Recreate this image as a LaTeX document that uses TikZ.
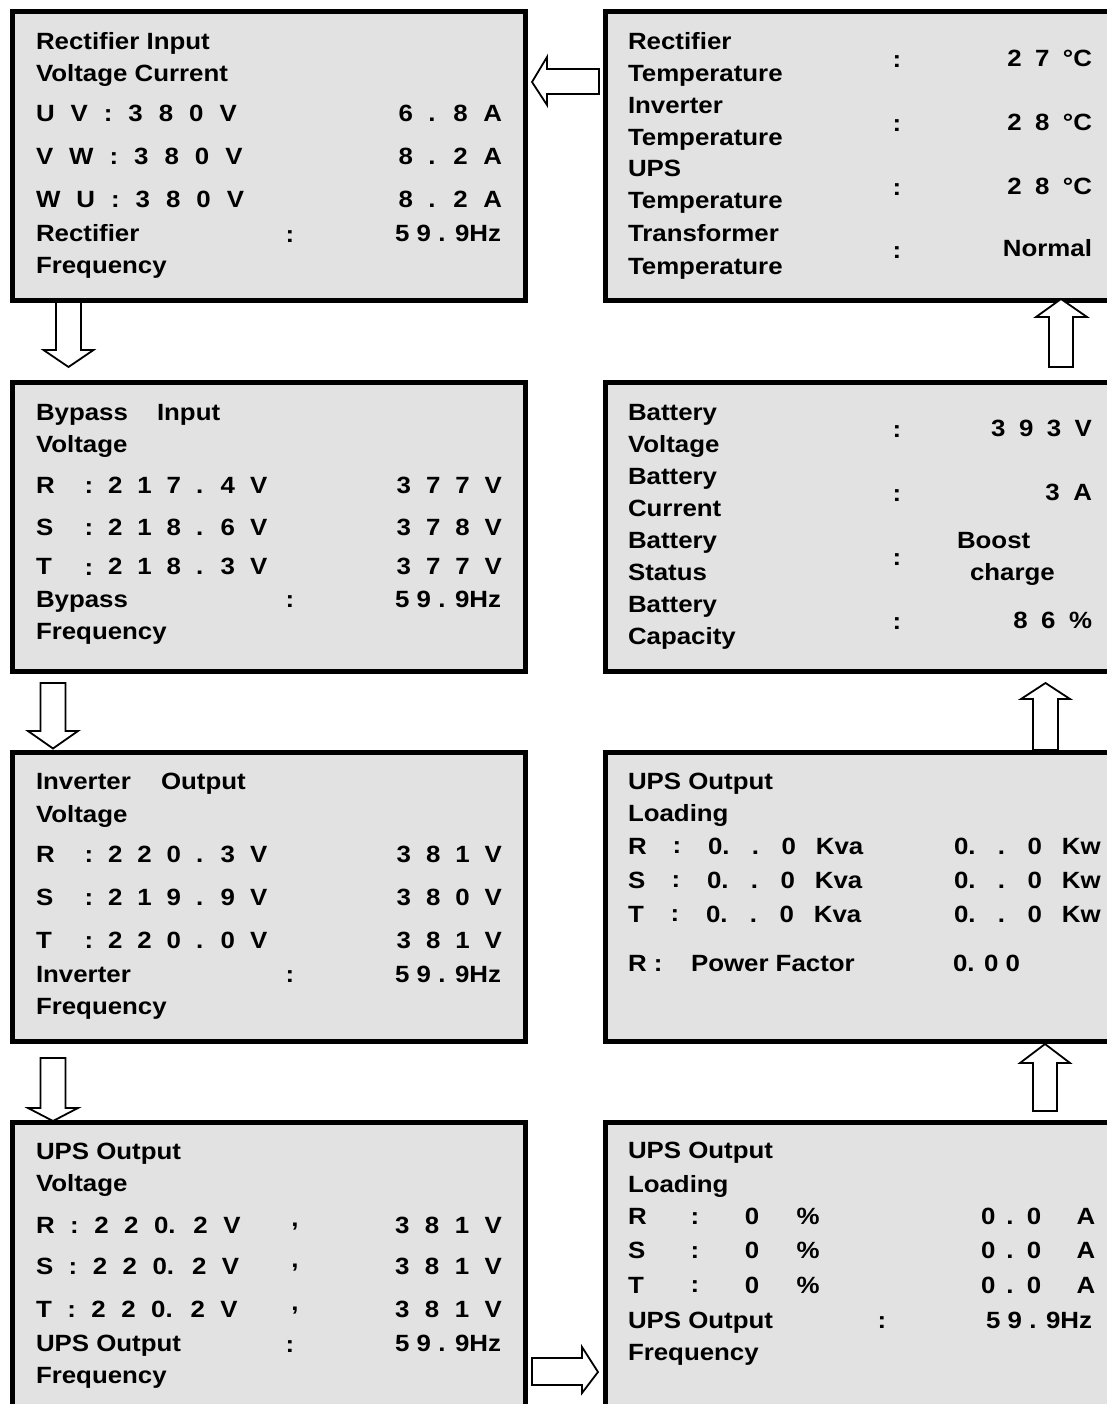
\documentclass[tikz,border=0pt]{standalone}
\usepackage{fontspec}
\setmainfont{Liberation Sans}[FakeStretch=1.1]
\definecolor{panelgray}{RGB}{226,226,226}
\newcommand\bx{\bfseries\fontsize{23.5}{28}\selectfont}
\tikzset{
  panel/.style={draw=black, line width=5pt, fill=panelgray, rectangle,
    minimum height=288.5pt, inner sep=0pt},
  lpanel/.style={panel, minimum width=513pt},
  rpanel/.style={panel, minimum width=512pt},
  tx/.style={font=\bx, inner sep=0pt, outer sep=0pt, text height=16.8pt, text depth=0pt, anchor=west},
  txr/.style={tx, anchor=east},
  txc/.style={tx, anchor=center},
  colon/.style={txc, yshift=-0.5pt},
  ws/.style={tx, font={\bx\spaceskip=#1\relax}},
  wsr/.style={ws=#1, anchor=east},
  blk/.style={draw=black, line width=1.8pt, fill=white, line join=miter},
}
\begin{document}
\begin{tikzpicture}[x=1pt, y=-1pt]
\useasboundingbox (0,0) rectangle (1107,1404);
\clip (0,0) rectangle (1107,1404);

% panels
\node[lpanel] (L1) at (268.5,156.25) {};
\node[lpanel] (L2) at (268.5,526.75) {};
\node[lpanel] (L3) at (268.5,896.75) {};
\node[lpanel] (L4) at (268.5,1266.25) {};
\node[rpanel] (R1) at (861,156.25) {};
\node[rpanel] (R2) at (861,526.75) {};
\node[rpanel] (R3) at (861,896.75) {};
\node[rpanel] (R4) at (861,1266.25) {};

% block arrows
\draw[blk] (599,69)--(599,94)--(547,94)--(547,105)--(532,82)--(547,57)--(547,69)--cycle;
\draw[blk] (56,302)--(81,302)--(81,350)--(93.5,350)--(68.5,367)--(43.5,350)--(56,350)--cycle;
\draw[blk] (40.5,683)--(65.5,683)--(65.5,731)--(78,731)--(53,748.5)--(28,731)--(40.5,731)--cycle;
\draw[blk] (40.5,1058)--(65.5,1058)--(65.5,1108)--(78,1108)--(53,1121)--(28,1108)--(40.5,1108)--cycle;
\draw[blk] (532,1358)--(582,1358)--(582,1347)--(598,1372)--(582,1393)--(582,1385)--(532,1385)--cycle;
\draw[blk] (1033,1111)--(1057,1111)--(1057,1063)--(1070,1063)--(1045,1044)--(1020,1063)--(1033,1063)--cycle;
\draw[blk] (1033,750)--(1058,750)--(1058,699)--(1070,699)--(1045.5,683)--(1021,699)--(1033,699)--cycle;
\draw[blk] (1049,367)--(1073,367)--(1073,317)--(1087,317)--(1061,299)--(1036,317)--(1049,317)--cycle;

% ---- L1
\node[tx] (l1h1) at (36,41.5) {Rectifier Input};
\node[tx] (l1h2) at (36,73.5) {Voltage Current};
\node[ws=16pt] (l1a) at (36,113.5) {U V : 3 8 0 V};
\node[wsr=15.5pt] (l1av) at (502,113.5) {6 . 8 A};
\node[ws=16pt] (l1b) at (36,156.5) {V W : 3 8 0 V};
\node[wsr=15.5pt] (l1bv) at (502,156.5) {8 . 2 A};
\node[ws=16pt] (l1c) at (36,199) {W U : 3 8 0 V};
\node[wsr=15.5pt] (l1cv) at (502,199) {8 . 2 A};
\node[tx] (l1f) at (36,233.5) {Rectifier};
\node[colon] (l1fc) at (290,233.5) {:};
\node[txr] (l1fv) at (501,233.5) {5 9 . 9Hz};
\node[tx] (l1f2) at (36,265.5) {Frequency};

% ---- L2
\node[tx] (l2h1) at (36,412) {Bypass};
\node[tx] (l2h1b) at (157,412) {Input};
\node[tx] (l2h2) at (36,444) {Voltage};
\node[tx] (l2a) at (36,485) {R};
\node[colon] (l2ac) at (89,485) {:};
\node[ws=15pt] (l2av) at (108,485) {2 1 7 . 4 V};
\node[wsr=15pt] (l2aw) at (502,485) {3 7 7 V};
\node[tx] (l2b) at (36,527) {S};
\node[colon] (l2bc) at (89,527) {:};
\node[ws=15pt] (l2bv) at (108,527) {2 1 8 . 6 V};
\node[wsr=15pt] (l2bw) at (502,527) {3 7 8 V};
\node[tx] (l2c) at (36,566.5) {T};
\node[colon] (l2cc) at (89,566.5) {:};
\node[ws=15pt] (l2cv) at (108,566.5) {2 1 8 . 3 V};
\node[wsr=15pt] (l2cw) at (502,566.5) {3 7 7 V};
\node[tx] (l2f) at (36,599) {Bypass};
\node[colon] (l2fc) at (290,599) {:};
\node[txr] (l2fv) at (501,599) {5 9 . 9Hz};
\node[tx] (l2f2) at (36,631) {Frequency};

% ---- L3
\node[tx] (l3h1) at (36,781) {Inverter};
\node[tx] (l3h1b) at (161,781) {Output};
\node[tx] (l3h2) at (36,814) {Voltage};
\node[tx] (l3a) at (36,854) {R};
\node[colon] (l3ac) at (89,854) {:};
\node[ws=15pt] (l3av) at (108,854) {2 2 0 . 3 V};
\node[wsr=15pt] (l3aw) at (502,854) {3 8 1 V};
\node[tx] (l3b) at (36,897) {S};
\node[colon] (l3bc) at (89,897) {:};
\node[ws=15pt] (l3bv) at (108,897) {2 1 9 . 9 V};
\node[wsr=15pt] (l3bw) at (502,897) {3 8 0 V};
\node[tx] (l3c) at (36,940) {T};
\node[colon] (l3cc) at (89,940) {:};
\node[ws=15pt] (l3cv) at (108,940) {2 2 0 . 0 V};
\node[wsr=15pt] (l3cw) at (502,940) {3 8 1 V};
\node[tx] (l3f) at (36,974) {Inverter};
\node[colon] (l3fc) at (290,974) {:};
\node[txr] (l3fv) at (501,974) {5 9 . 9Hz};
\node[tx] (l3f2) at (36,1006) {Frequency};

% ---- L4
\node[tx] (l4h1) at (36,1151.5) {UPS Output};
\node[tx] (l4h2) at (36,1183.5) {Voltage};
\node[ws=15.5pt] (l4a) at (36,1225) {R : 2 2 0. 2 V};
\node[txc] (l4ak) at (295,1218) {,};
\node[wsr=15.5pt] (l4aw) at (502,1225) {3 8 1 V};
\node[ws=15.5pt] (l4b) at (36,1266.5) {S : 2 2 0. 2 V};
\node[txc] (l4bk) at (295,1259.5) {,};
\node[wsr=15.5pt] (l4bw) at (502,1266.5) {3 8 1 V};
\node[ws=15.5pt] (l4c) at (36,1309) {T : 2 2 0. 2 V};
\node[txc] (l4ck) at (295,1302) {,};
\node[wsr=15.5pt] (l4cw) at (502,1309) {3 8 1 V};
\node[tx] (l4f) at (36,1343.5) {UPS Output};
\node[colon] (l4fc) at (290,1343.5) {:};
\node[txr] (l4fv) at (501,1343.5) {5 9 . 9Hz};
\node[tx] (l4f2) at (36,1375) {Frequency};

% ---- R1
\node[tx] (r1a1) at (628,41.5) {Rectifier};
\node[tx] (r1a2) at (628,73) {Temperature};
\node[colon] (r1ac) at (897,59) {:};
\node[wsr=13.5pt] (r1av) at (1092,58.5) {2 7 °C};
\node[tx] (r1b1) at (628,105) {Inverter};
\node[tx] (r1b2) at (628,137) {Temperature};
\node[colon] (r1bc) at (897,123) {:};
\node[wsr=13.5pt] (r1bv) at (1092,122) {2 8 °C};
\node[tx] (r1c1) at (628,168.5) {UPS};
\node[tx] (r1c2) at (628,200.5) {Temperature};
\node[colon] (r1cc) at (897,187) {:};
\node[wsr=13.5pt] (r1cv) at (1092,186) {2 8 °C};
\node[tx] (r1d1) at (628,233) {Transformer};
\node[tx] (r1d2) at (628,266.5) {Temperature};
\node[colon] (r1dc) at (897,250) {:};
\node[txr] (r1dv) at (1092,248) {Normal};

% ---- R2
\node[tx] (r2a1) at (628,412) {Battery};
\node[tx] (r2a2) at (628,444) {Voltage};
\node[colon] (r2ac) at (897,429) {:};
\node[wsr=13.5pt] (r2av) at (1092,428) {3 9 3 V};
\node[tx] (r2b1) at (628,476) {Battery};
\node[tx] (r2b2) at (628,508) {Current};
\node[colon] (r2bc) at (897,493) {:};
\node[wsr=13.5pt] (r2bv) at (1092,492) {3 A};
\node[tx] (r2c1) at (628,540) {Battery};
\node[tx] (r2c2) at (628,572) {Status};
\node[colon] (r2cc) at (897,557) {:};
\node[tx] (r2cv1) at (957,540) {Boost};
\node[tx] (r2cv2) at (970,572) {charge};
\node[tx] (r2d1) at (628,604) {Battery};
\node[tx] (r2d2) at (628,636) {Capacity};
\node[colon] (r2dc) at (897,621) {:};
\node[wsr=13.5pt] (r2dv) at (1092,620) {8 6 \%};

% ---- R3
\node[tx] (r3h1) at (628,781) {UPS Output};
\node[tx] (r3h2) at (628,813) {Loading};
\node[tx] (r3a) at (628,846) {R};
\node[colon] (r3ac) at (677,845) {:};
\node[ws=20pt] (r3av) at (708,846) {0. . 0 Kva};
\node[ws=20pt] (r3aw) at (954,846) {0. . 0 Kw};
\node[tx] (r3b) at (628,880) {S};
\node[colon] (r3bc) at (676,879) {:};
\node[ws=20pt] (r3bv) at (707,880) {0. . 0 Kva};
\node[ws=20pt] (r3bw) at (954,880) {0. . 0 Kw};
\node[tx] (r3c) at (628,914) {T};
\node[colon] (r3cc) at (675,913) {:};
\node[ws=20pt] (r3cv) at (706,914) {0. . 0 Kva};
\node[ws=20pt] (r3cw) at (954,914) {0. . 0 Kw};
\node[tx] (r3p) at (628,963) {R :};
\node[tx] (r3pf) at (691,963) {Power Factor};
\node[tx] (r3pv) at (953,963) {0. 0 0};

% ---- R4
\node[tx] (r4h1) at (628,1150.5) {UPS Output};
\node[tx] (r4h2) at (628,1184) {Loading};
\node[tx] (r4a) at (628,1216.5) {R};
\node[colon] (r4ac) at (695,1215.5) {:};
\node[txc] (r4a0) at (752,1216.5) {0};
\node[txc] (r4ap) at (808,1216.5) {\%};
\node[ws=11pt] (r4av) at (981,1216.5) {0 . 0};
\node[txc] (r4aa) at (1086,1216.5) {A};
\node[tx] (r4b) at (628,1250.5) {S};
\node[colon] (r4bc) at (695,1249.5) {:};
\node[txc] (r4b0) at (752,1250.5) {0};
\node[txc] (r4bp) at (808,1250.5) {\%};
\node[ws=11pt] (r4bv) at (981,1250.5) {0 . 0};
\node[txc] (r4ba) at (1086,1250.5) {A};
\node[tx] (r4c) at (628,1285) {T};
\node[colon] (r4cc) at (695,1284) {:};
\node[txc] (r4c0) at (752,1285) {0};
\node[txc] (r4cp) at (808,1285) {\%};
\node[ws=11pt] (r4cv) at (981,1285) {0 . 0};
\node[txc] (r4ca) at (1086,1285) {A};
\node[tx] (r4f) at (628,1320) {UPS Output};
\node[colon] (r4fc) at (882,1320) {:};
\node[txr] (r4fv) at (1092,1320) {5 9 . 9Hz};
\node[tx] (r4f2) at (628,1352) {Frequency};
\end{tikzpicture}
\end{document}
